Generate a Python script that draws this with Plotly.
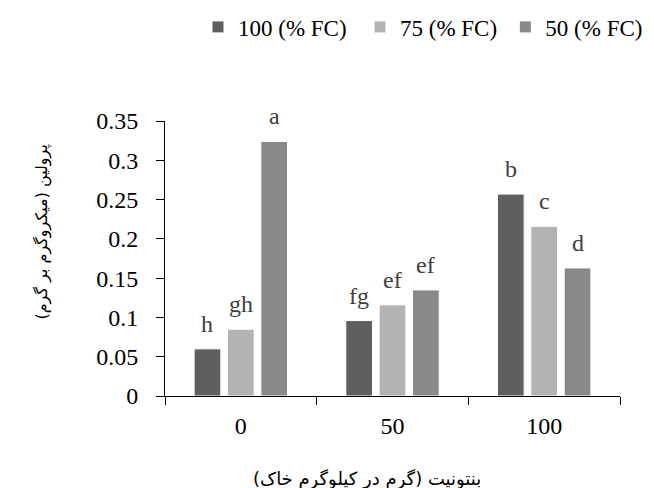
import plotly.graph_objects as go

categories = ["0", "50", "100"]
series_names = ["100 (% FC)", "75 (% FC)", "50 (% FC)"]
fc100 = [0.060, 0.096, 0.257]
fc75 = [0.085, 0.116, 0.216]
fc50 = [0.324, 0.135, 0.163]
letters100 = ["h", "fg", "b"]
letters75 = ["gh", "ef", "c"]
letters50 = ["a", "ef", "d"]
y_ticks = [0, 0.05, 0.1, 0.15, 0.2, 0.25, 0.3, 0.35]
y_ticklabels = ["0", "0.05", "0.1", "0.15", "0.2", "0.25", "0.3", "0.35"]

colors = ["#5f5f5f", "#b3b3b3", "#898989"]
values = [fc100, fc75, fc50]
letters = [letters100, letters75, letters50]
legend_ids = ["legend", "legend2", "legend3"]
legend_x = [0.0725, 0.4286, 0.748]

serif = "Liberation Serif"
bargap = 0.34

fig = go.Figure()
for name, vals, col, lid in zip(series_names, values, colors, legend_ids):
    fig.add_trace(go.Bar(x=categories, y=vals, name=name, legend=lid, showlegend=True,
                         marker=dict(color=col, line=dict(color="white", width=1))))

n = len(values)
slot = (1 - bargap) / n
annotations = []
for si, (vals, labs) in enumerate(zip(values, letters)):
    for ci, (v, lab) in enumerate(zip(vals, labs)):
        annotations.append(dict(x=ci + (si - (n - 1) / 2) * slot, y=v, xref="x", yref="y",
                                text=lab, showarrow=False, yanchor="bottom", yshift=10,
                                font=dict(family=serif, size=24, color="#404040")))

annotations.append(dict(text="پرولین (میکروگرم بر گرم)", xref="paper", yref="paper",
                        x=-0.27, y=0.595, textangle=-90, showarrow=False,
                        xanchor="center", yanchor="middle",
                        font=dict(family="DejaVu Sans", size=16, color="black")))
annotations.append(dict(text="بنتونیت (گرم در کیلوگرم خاک)", xref="paper", yref="paper",
                        x=0.445, y=-0.302, xanchor="center", yanchor="middle", showarrow=False,
                        font=dict(family="DejaVu Sans", size=18, color="black")))

legend_layout = {}
for lid, lx in zip(legend_ids, legend_x):
    legend_layout[lid] = dict(orientation="h", x=lx, xanchor="left", y=1.342, yanchor="middle",
                              bgcolor="rgba(0,0,0,0)", visible=True,
                              font=dict(family=serif, size=23, color="black"))

# page body has an 8px margin, so the figure is sized/offset to compensate
fig.update_layout(
    width=646, height=480,
    showlegend=True,
    margin=dict(l=157, r=34, t=113, b=92, autoexpand=False),
    plot_bgcolor="white", paper_bgcolor="white",
    barmode="group", bargap=bargap, bargroupgap=0.2,
    annotations=annotations,
    xaxis=dict(type="category", showline=True, linecolor="black", linewidth=1,
               ticks="outside", ticklen=8, tickcolor="black", tickson="boundaries",
               ticklabelstandoff=8,
               tickfont=dict(family=serif, size=24, color="black"), showgrid=False),
    yaxis=dict(range=[0, 0.35], tickvals=y_ticks, ticktext=y_ticklabels, showline=True,
               linecolor="black", linewidth=1, ticks="outside", ticklen=8, tickcolor="black",
               ticklabelstandoff=13,
               tickfont=dict(family=serif, size=24, color="black"), showgrid=False,
               zeroline=False),
    **legend_layout,
)

fig.write_html("out.html")
